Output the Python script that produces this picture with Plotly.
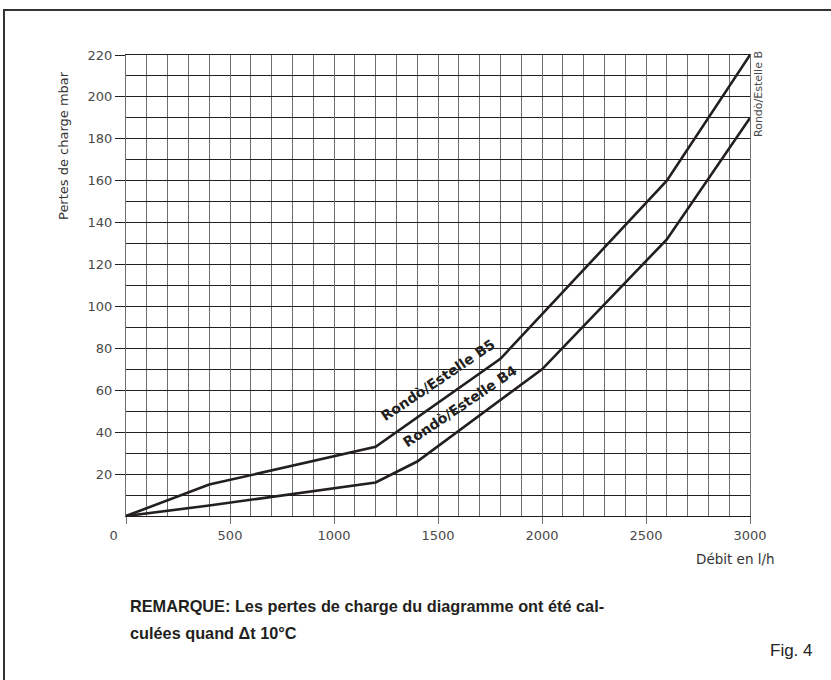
import plotly.graph_objects as go

# Data
flow_b5 = [0, 400, 1200, 1800, 2600, 3000]
loss_b5 = [0, 15, 33, 75, 160, 220]
flow_b4 = [0, 400, 1200, 1400, 2000, 2600, 3000]
loss_b4 = [0, 5, 16, 26, 70, 132, 190]
x_ticks = [0, 500, 1000, 1500, 2000, 2500, 3000]
x_tick_labels = ["0\u00a0\u00a0\u00a0\u00a0\u00a0\u00a0", "500", "1000", "1500", "2000", "2500", "3000"]
y_ticks = [20, 40, 60, 80, 100, 120, 140, 160, 180, 200, 220]
y_tick_labels = [str(v) for v in y_ticks]

W, H = 831, 680
L, R, T, B = 126, 81, 55, 164
PW, PH = W - L - R, H - T - B

def px(x):
    return (x - L) / PW

def py(y):
    return (H - B - y) / PH

LINE = "#231f20"
VGRID = "#6e6e6e"
HGRID = "#231f20"
TXT = "#4a4a4a"

fig = go.Figure()
fig.add_trace(go.Scatter(x=flow_b5, y=loss_b5, mode="lines",
                         line=dict(color=LINE, width=2.6), showlegend=False))
fig.add_trace(go.Scatter(x=flow_b4, y=loss_b4, mode="lines",
                         line=dict(color=LINE, width=2.6), showlegend=False))

fig.update_xaxes(range=[0, 3000], tickvals=x_ticks, ticktext=x_tick_labels,
                 showgrid=True, gridcolor=VGRID, gridwidth=1,
                 minor=dict(dtick=100, showgrid=True, gridcolor=VGRID, gridwidth=1),
                 ticks="outside", ticklen=7, tickcolor=VGRID, tickwidth=1,
                 showline=True, linecolor=HGRID, linewidth=1, mirror=True,
                 zeroline=False,
                 tickfont=dict(family="DejaVu Sans", size=13, color=TXT))
fig.update_yaxes(range=[0, 220], tickvals=y_ticks, ticktext=y_tick_labels,
                 showgrid=True, gridcolor=HGRID, gridwidth=1,
                 minor=dict(dtick=10, showgrid=True, gridcolor=HGRID, gridwidth=1),
                 ticks="outside", ticklen=10, tickcolor=HGRID, tickwidth=1,
                 showline=True, linecolor=VGRID, linewidth=1, mirror=True,
                 zeroline=False,
                 tickfont=dict(family="DejaVu Sans", size=13, color=TXT))

C = dict(xanchor="center", yanchor="middle", showarrow=False)
ann = []
ann.append(dict(x=1500, y=65, xref="x", yref="y", text="<b>Rondò/Estelle B5</b>",
                textangle=-34, font=dict(family="DejaVu Sans", size=14, color=LINE), **C))
ann.append(dict(x=1608, y=52.5, xref="x", yref="y", text="<b>Rondò/Estelle B4</b>",
                textangle=-34, font=dict(family="DejaVu Sans", size=14, color=LINE), **C))
ann.append(dict(x=px(758), y=py(94), xref="paper", yref="paper", text="Rondò/Estelle B",
                textangle=-90, font=dict(family="DejaVu Sans", size=11, color=TXT), **C))
ann.append(dict(x=px(63), y=py(146), xref="paper", yref="paper", text="Pertes de charge mbar",
                textangle=-90, font=dict(family="DejaVu Sans", size=13, color="#333333"), **C))
ann.append(dict(x=px(735), y=py(559), xref="paper", yref="paper", text="Débit en l/h",
                font=dict(family="DejaVu Sans", size=13.5, color="#333333"), **C))
ann.append(dict(x=px(128), y=py(606), xref="paper", yref="paper", xanchor="left", yanchor="middle",
                text="<b>REMARQUE: Les pertes de charge du diagramme ont été cal-</b>",
                showarrow=False,
                font=dict(family="Liberation Sans", size=16.3, color=LINE)))
ann.append(dict(x=px(128), y=py(633), xref="paper", yref="paper", xanchor="left", yanchor="middle",
                text="<b>culées quand Δt 10°C</b>",
                showarrow=False,
                font=dict(family="Liberation Sans", size=16.3, color=LINE)))
ann.append(dict(x=px(768), y=py(650), xref="paper", yref="paper", xanchor="left", yanchor="middle",
                text="Fig. 4", showarrow=False,
                font=dict(family="Liberation Sans", size=17, color="#222222")))

shapes = [dict(type="rect", xref="paper", yref="paper",
               x0=px(4), y0=py(700), x1=px(850), y1=py(10),
               line=dict(color="#333333", width=2), fillcolor="rgba(0,0,0,0)", layer="above")]

fig.update_layout(width=W, height=H, margin=dict(l=L, r=R, t=T, b=B),
                  paper_bgcolor="white", plot_bgcolor="white",
                  annotations=ann, shapes=shapes, showlegend=False)

fig.write_html("out.html", config={"displayModeBar": False},
               post_script="document.body.style.margin='0px';document.body.style.overflow='hidden';")
